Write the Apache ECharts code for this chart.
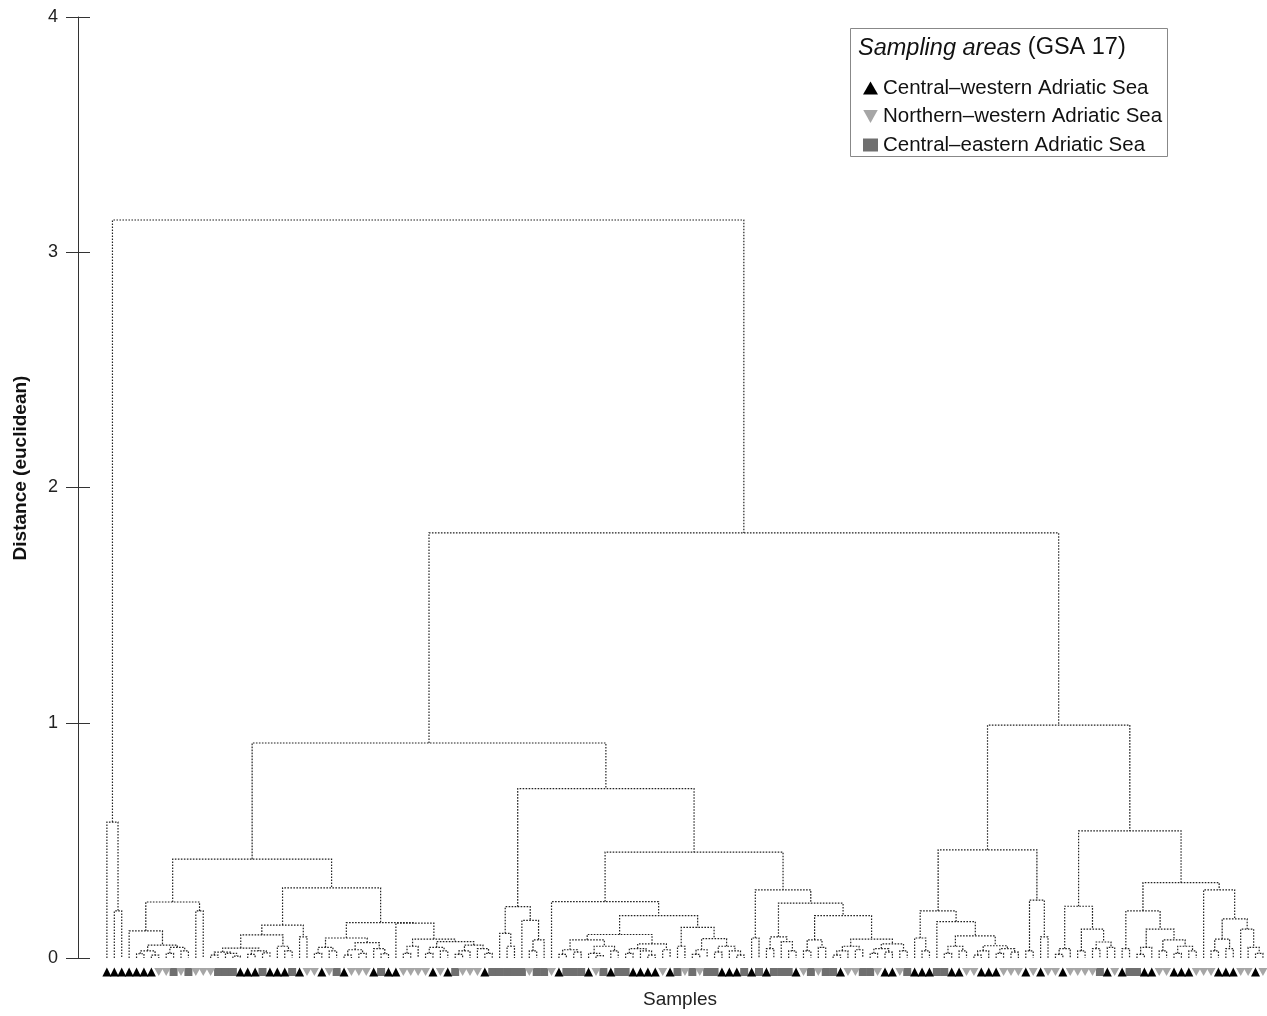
<!DOCTYPE html>
<html>
<head>
<meta charset="utf-8">
<script src="https://cdn.jsdelivr.net/npm/echarts@6/dist/echarts.min.js"></script>
<style>html,body{margin:0;padding:0;background:#fff}#c{width:1267px;height:1016px}</style>
</head>
<body>
<div id="c"></div>
<script>
// ---- data ----
// Dendrogram: an internal node is [height, left, right]; a leaf is _ (0).
const _ = 0;
const L0 = [0.578, _, [0.20, _, _]];
const A1a = [0.238,
  [0.115, _, [0.055, [0.03, [0.018,_,_], [0.012,_,_]], [0.045, [0.02,_,_], [0.03,_,_]]]],
  [0.20, _, _]];
const A1bL = [0.14,
  [0.098,
    [0.042, [0.025,[0.012,_,_],[0.02,_,[0.008,_,_]]], [0.03,[0.015,_,_],[0.022,_,_]]],
    [0.05, _, [0.03,_,_]]],
  [0.09, _, _]];
const A1bR = [0.15,
  [0.085, [0.045,[0.02,_,_],[0.03,_,_]], [0.065,[0.035,[0.012,_,_],[0.02,_,_]],[0.04,_,[0.018,_,_]]]],
  [0.148, _, [0.08, [0.05,[0.02,_,_],_], [0.07,[0.045,[0.02,_,_],[0.03,_,_]],[0.055,[0.03,[0.015,_,_],_],[0.04,_,[0.02,_,_]]]]]]];
const A1 = [0.42, A1a, [0.298, A1bL, A1bR]];
const A2a = [0.218, [0.105, _, [0.05,_,_]], [0.16, _, [0.077,[0.03,_,_],_]]];
const A2b1 = [0.24, _, [0.18,
  [0.10, [0.077,[0.035,[0.015,_,_],[0.025,_,_]],[0.05,[0.02,_,[0.01,_,_]],[0.03,_,_]]],
         [0.06,[0.04,[0.02,_,_],[0.03,_,[0.012,_,_]]],[0.035,_,_]]],
  [0.13, [0.05,_,_], [0.082,[0.035,[0.015,_,_],_],[0.05,[0.025,_,_],[0.03,_,[0.012,_,_]]]]]]];
const A2b2 = [0.29, [0.085,_,_], [0.233,
  [0.09,[0.04,_,_],[0.07,_,[0.03,_,_]]],
  [0.18, [0.077,[0.03,_,_],[0.045,_,_]],
         [0.08,[0.05,[0.03,[0.012,_,_],_],[0.035,_,_]],[0.06,[0.04,[0.02,_,_],[0.025,_,_]],[0.03,_,_]]]]]];
const A2 = [0.72, A2a, [0.45, A2b1, A2b2]];
const B1 = [0.46,
  [0.20, [0.085,_,[0.03,_,_]], [0.155,_,[0.094,[0.05,[0.02,_,_],[0.03,_,_]],[0.052,[0.03,[0.012,_,_],_],[0.04,[0.02,_,_],[0.025,_,_]]]]]],
  [0.246,[0.03,_,_],[0.09,_,_]]];
const B2 = [0.54,
  [0.22,[0.04,[0.015,_,_],_],[0.123,[0.03,_,_],[0.068,[0.04,_,_],[0.045,_,_]]]],
  [0.32,
    [0.20,[0.04,_,_],[0.123,[0.045,[0.015,_,_],_],[0.077,[0.03,_,_],[0.05,[0.02,_,_],[0.03,_,_]]]]],
    [0.29,_,[0.166,[0.08,[0.03,_,_],[0.04,_,_]],[0.123,_,[0.045,_,[0.02,_,_]]]]]]];
const tree = [3.137, L0, [1.807, [0.914, A1, A2], [0.99, B1, B2]]];

// Sampling area of each leaf, left to right: T = Central–western, V = Northern–western, S = Central–eastern
const leafAreas = ('TTTTTTT' + 'VVSVSVVVSSS' + 'TTTSTTTSTVVTVSTVVVTSTT' + 'VVVVTVTSVVVTSSSSSVSSV' +
  'TSSSTVSTSSTTTTVTSVSV' + 'SSTTTSTSTSSSTVSVSSTV' + 'VSSVTTVSTTTSSTTVVTTT' +
  'VVVTVTVVTVVVVSTVTSST' + 'TVVTTTVVVTTTVVTV').split('');
const areaNames = ['Central–western Adriatic Sea', 'Northern–western Adriatic Sea', 'Central–eastern Adriatic Sea'];
const areaCodes = ['T', 'V', 'S'];
const yTicks = [0, 1, 2, 3, 4];

// ---- layout of the tree through the data scale ----
let leafCount = 0;
const links = [];
function walk(n) {
  if (!Array.isArray(n)) { const x = leafCount++; return { x: x, h: 0 }; }
  const a = walk(n[1]), b = walk(n[2]);
  links.push({ coords: [[a.x, a.h], [a.x, n[0]], [b.x, n[0]], [b.x, b.h]] });
  return { x: (a.x + b.x) / 2, h: n[0] };
}
walk(tree);
if (leafCount !== leafAreas.length) console.warn('leaf mismatch', leafCount, leafAreas.length);

const markerData = areaCodes.map(c => {
  const d = [];
  leafAreas.forEach((a, i) => { if (a === c && i < leafCount) d.push([i, 0]); });
  return d;
});

const XMIN = -3.9, XMAX = 156.55;
const FONT = 'Liberation Sans, Arial, sans-serif';
const downTri = 'path://M0,0L10,0L5,9Z';
const symbols = ['triangle', downTri, 'rect'];
const colors = ['#000000', '#a6a6a6', '#6f6f6f'];
const sizes = [[9, 9], [9, 8], [8, 8]];

const chart = echarts.init(document.getElementById('c'), null, { renderer: 'canvas' });
const option = {
  animation: false,
  backgroundColor: '#fff',
  textStyle: { fontFamily: FONT },
  grid: [
    { left: 78, right: 0, top: 17, bottom: 58 },
    { left: 78, right: 0, top: 963, height: 18 }
  ],
  xAxis: [
    { type: 'value', gridIndex: 0, min: XMIN, max: XMAX, show: false },
    { type: 'value', gridIndex: 1, min: XMIN, max: XMAX, show: false }
  ],
  yAxis: [
    {
      type: 'value', gridIndex: 0, min: 0, max: 4, interval: 1, position: 'left', offset: 0,
      axisLine: { show: true, onZero: false, lineStyle: { color: '#333', width: 1 } },
      axisTick: { show: true, length: 12, lineStyle: { color: '#333' } },
      axisLabel: { show: true, margin: 20, fontSize: 18, color: '#222', fontFamily: FONT,
        formatter: v => (yTicks.indexOf(v) >= 0 ? String(v) : '') },
      splitLine: { show: false }
    },
    {
      type: 'value', gridIndex: 0, min: 0, max: 4, interval: 1, position: 'left', offset: 0,
      axisLine: { show: false, onZero: false },
      axisTick: { show: true, inside: true, length: 12, lineStyle: { color: '#333' } },
      axisLabel: { show: false }, splitLine: { show: false }
    },
    { type: 'value', gridIndex: 1, min: -1, max: 1, show: false }
  ],
  legend: {
    left: 858, top: 72, orient: 'vertical', selectedMode: false,
    itemWidth: 15, itemHeight: 13, itemGap: 6.5,
    textStyle: { fontSize: 20.5, color: '#111', lineHeight: 22, fontFamily: FONT },
    data: areaNames
  },
  graphic: [
    { type: 'rect', left: 850, top: 28, shape: { width: 317, height: 128 },
      style: { fill: '#fff', stroke: '#888', lineWidth: 1 }, z: 0 },
    { type: 'text', x: 858, y: 48,
      style: { text: '{i|Sampling areas} (GSA 17)', fontSize: 23.5, fill: '#111', fontFamily: FONT,
        verticalAlign: 'middle',
        rich: { i: { fontStyle: 'italic', fontSize: 23.5, fontFamily: FONT } } }, z: 5 },
    { type: 'text', x: 680, y: 1000,
      style: { text: 'Samples', fontSize: 19, fill: '#222', fontFamily: FONT, align: 'center', verticalAlign: 'middle' }, z: 5 },
    { type: 'text', x: 21, y: 468, rotation: Math.PI / 2,
      style: { text: 'Distance (euclidean)', fontSize: 19, fontWeight: 'bold', fill: '#111',
        fontFamily: 'Liberation Sans Narrow, Arial Narrow, Liberation Sans, Arial, sans-serif',
        align: 'center', verticalAlign: 'middle' }, z: 5 }
  ],
  series: [
    {
      type: 'lines', coordinateSystem: 'cartesian2d', xAxisIndex: 0, yAxisIndex: 0,
      polyline: true, silent: true, clip: false,
      lineStyle: { color: '#222', width: 1.2, type: [1.6, 1.4], opacity: 1 },
      data: links
    },
    ...[2, 1, 0].map(k => ({
      type: 'scatter', name: areaNames[k], xAxisIndex: 1, yAxisIndex: 2,
      symbol: symbols[k], symbolSize: sizes[k], silent: true,
      itemStyle: { color: colors[k], opacity: 1 },
      data: markerData[k]
    }))
  ]
};
chart.setOption(option);
</script>
</body>
</html>
